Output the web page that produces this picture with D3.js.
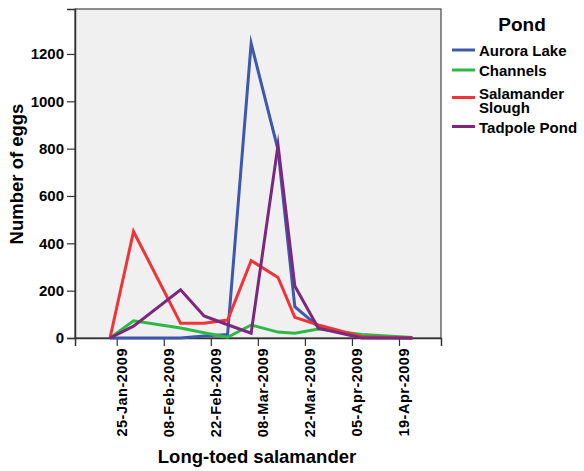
<!DOCTYPE html>
<html>
<head>
<meta charset="utf-8">
<script src="https://cdn.jsdelivr.net/npm/d3@7/dist/d3.min.js"></script>
<style>
  body { margin: 0; background: #fff; }
  text { font-family: "Liberation Sans", Arial, sans-serif; font-weight: bold; fill: #000; }
</style>
</head>
<body>
<svg id="chart" width="584" height="471"></svg>
<script>
// ---- data ----
const dates = ["23-Jan-2009","30-Jan-2009","13-Feb-2009","20-Feb-2009","27-Feb-2009","06-Mar-2009","14-Mar-2009","19-Mar-2009","26-Mar-2009","08-Apr-2009","23-Apr-2009"];
const seriesNames = ["Aurora Lake","Channels","Salamander Slough","Tadpole Pond"];
const auroraLake       = [0, 0, 0, 8, 15, 1245, 795, 132, 48, 2, 0];
const channels         = [0, 73, 42, 22, 3, 55, 25, 20, 38, 15, 2];
const salamanderSlough = [0, 450, 62, 62, 76, 327, 256, 87, 55, 5, 0];
const tadpolePond      = [0, 50, 204, 93, 56, 20, 815, 220, 41, 0, 0];
const xTickLabels = ["25-Jan-2009","08-Feb-2009","22-Feb-2009","08-Mar-2009","22-Mar-2009","05-Apr-2009","19-Apr-2009"];
const yTicks = [0, 200, 400, 600, 800, 1000, 1200];
const colors = ["#3E58AC", "#2EB848", "#EF3338", "#7C287D"];
const xTitle = "Long-toed salamander";
const yTitle = "Number of eggs";
const legendTitle = "Pond";

// ---- layout ----
const svg = d3.select("#chart");
const L = 75, T = 9, R = 441, B = 338;
const parse = d3.utcParse("%d-%b-%Y");
const values = [auroraLake, channels, salamanderSlough, tadpolePond];

const x = d3.scaleUtc()
  .domain([d3.utcHour.offset(parse("25-Jan-2009"), -298), d3.utcHour.offset(parse("25-Jan-2009"), 2316)])
  .range([L, R]);
const y = d3.scaleLinear().domain([0, 1390]).range([B, T]);

// plot background
svg.append("rect").attr("x", L).attr("y", T).attr("width", R - L).attr("height", B - T)
  .attr("fill", "#f0f0f0").attr("stroke", "#444").attr("stroke-width", 1.2);

// y axis
const yAxis = svg.append("g").attr("transform", `translate(${L},0)`)
  .call(d3.axisLeft(y).tickValues(yTicks).tickSize(8).tickPadding(3).tickFormat(d3.format("d")));
yAxis.select(".domain").attr("stroke", "#333").attr("stroke-width", 1.5);
yAxis.selectAll(".tick line").attr("stroke", "#333").attr("stroke-width", 1.2);
yAxis.selectAll("text").attr("font-size", 15).attr("font-family", "Liberation Sans, Arial").attr("font-weight", "bold").attr("fill", "#000");

// x axis
const xAxis = svg.append("g").attr("transform", `translate(0,${B})`)
  .call(d3.axisBottom(x).tickValues(xTickLabels.map(parse)).tickSize(8).tickFormat(d3.utcFormat("%d-%b-%Y")));
xAxis.select(".domain").attr("stroke", "#333").attr("stroke-width", 1.5);
xAxis.selectAll(".tick line").attr("stroke", "#333").attr("stroke-width", 1.2);
xAxis.selectAll("text")
  .attr("font-size", 14.5).attr("font-family", "Liberation Sans, Arial").attr("font-weight", "bold").attr("fill", "#000")
  .attr("letter-spacing", "0.5px")
  .attr("transform", "rotate(-90)")
  .attr("text-anchor", "end")
  .attr("x", -10).attr("y", 10).attr("dy", 0);

// lines
const line = d3.line().x((d, i) => x(parse(dates[i]))).y(d => y(d));
values.forEach((vals, k) => {
  svg.append("path").datum(vals)
    .attr("d", line)
    .attr("fill", "none")
    .attr("stroke", colors[k])
    .attr("stroke-width", 3)
    .attr("stroke-linejoin", "miter")
    .attr("stroke-miterlimit", 20);
});

// axis titles
svg.append("text").attr("x", (L + R) / 2 - 1).attr("y", 463).attr("text-anchor", "middle")
  .attr("font-size", 18.5).text(xTitle);
svg.append("text").attr("transform", `translate(23,174) rotate(-90)`).attr("text-anchor", "middle")
  .attr("font-size", 18.5).text(yTitle);

// legend
svg.append("text").attr("x", 522).attr("y", 31).attr("text-anchor", "middle").attr("font-size", 19).text(legendTitle);
const legendRows = [
  { lines: ["Aurora Lake"], y: 50, base: [56] },
  { lines: ["Channels"], y: 70, base: [75.5] },
  { lines: ["Salamander", "Slough"], y: 97.5, base: [98.5, 113] },
  { lines: ["Tadpole Pond"], y: 126.5, base: [132.5] }
];
legendRows.forEach((r, k) => {
  svg.append("line").attr("x1", 452).attr("x2", 475).attr("y1", r.y).attr("y2", r.y)
    .attr("stroke", colors[k]).attr("stroke-width", 3);
  const t = svg.append("text").attr("x", 479).attr("font-size", 15);
  r.lines.forEach((s, j) => {
    t.append("tspan").attr("x", 479).attr("y", r.base[j]).text(s);
  });
});
</script>
</body>
</html>
